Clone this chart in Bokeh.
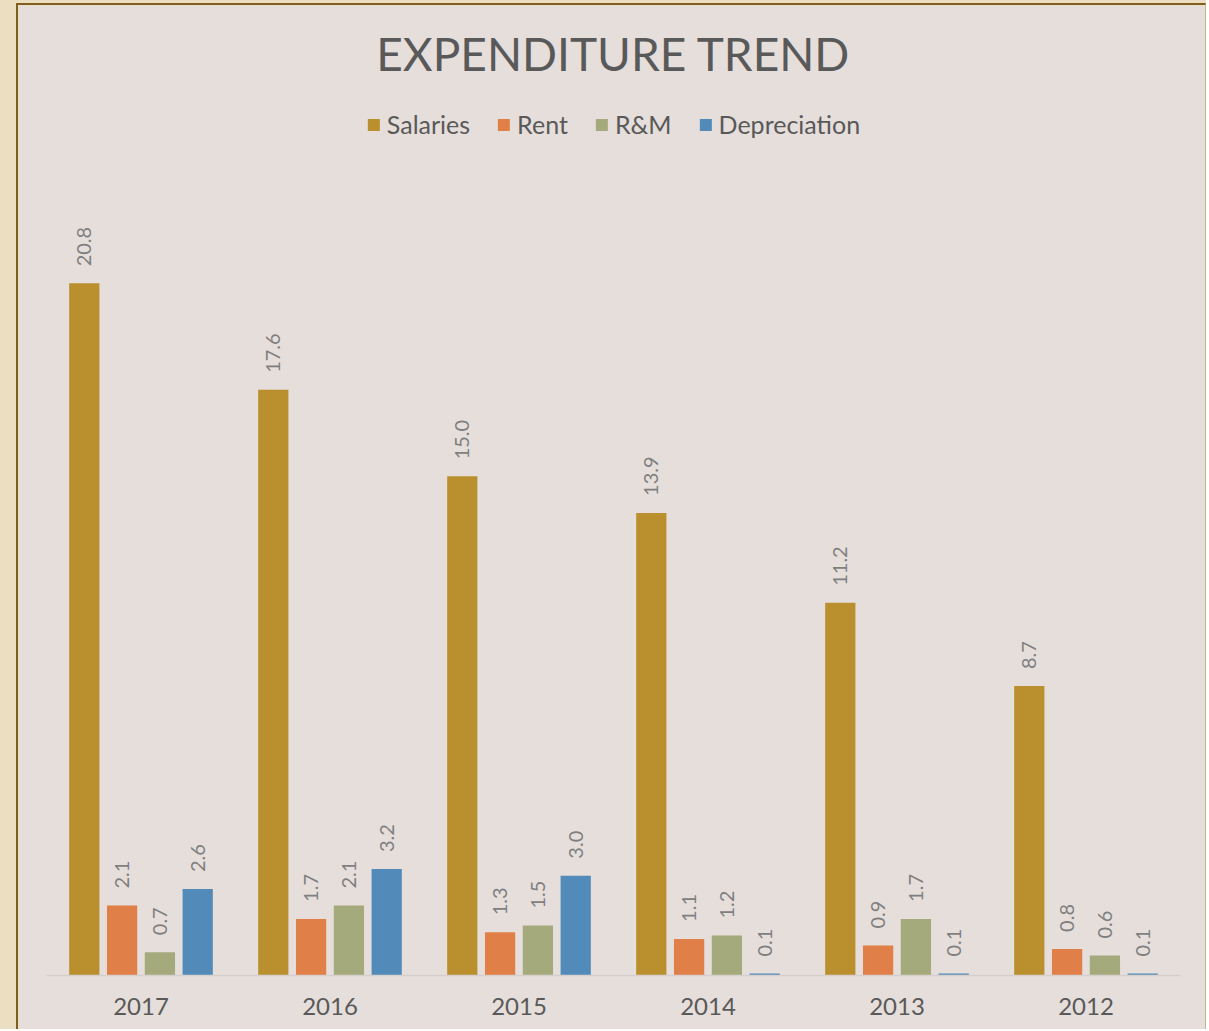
import math
from bokeh.plotting import figure
from bokeh.models import FactorRange, Range1d, ColumnDataSource, Legend, LegendItem, Label
from bokeh.transform import dodge
from bokeh.layouts import column
from bokeh.embed import file_html
from bokeh.resources import INLINE
from bokeh.core.properties import value

# ---- data ----
years = ["2017", "2016", "2015", "2014", "2013", "2012"]
salaries = [20.8, 17.6, 15.0, 13.9, 11.2, 8.7]
rent = [2.1, 1.7, 1.3, 1.1, 0.9, 0.8]
rm = [0.7, 2.1, 1.5, 1.2, 1.7, 0.6]
depreciation = [2.6, 3.2, 3.0, 0.06, 0.06, 0.06]
series_names = ["Salaries", "Rent", "R&M", "Depreciation"]
title_text = "EXPENDITURE TREND"

# ---- style ----
BG = "#E6DEDB"
OUTER = "#EBDEC1"
colors = ["#BA8F2E", "#E07F47", "#A5AA7D", "#528BBA"]
offsets = [-0.3, -0.1, 0.1, 0.3]
FONT = "Lato"

src = ColumnDataSource(dict(
    years=years,
    s0=salaries, s1=rent, s2=rm, s3=depreciation,
    l0=[f"{v:.1f}" for v in salaries],
    l1=[f"{v:.1f}" for v in rent],
    l2=[f"{v:.1f}" for v in rm],
    l3=[f"{v:.1f}" for v in depreciation],
))

p = figure(
    x_range=FactorRange(*years, range_padding=0, factor_padding=0),
    y_range=Range1d(0, 29.15),
    width=1190, height=1026,
    output_backend="svg", toolbar_location=None,
    min_border_left=28, min_border_right=28, min_border_top=0, min_border_bottom=56,
    background_fill_color=BG, border_fill_color=BG, outline_line_color=None,
    styles={"border-left": "2px solid #7F5F1F", "border-top": "2px solid #7F5F1F",
            "border-right": "1px solid #C8B48C"},
)
p.yaxis.visible = False
p.grid.visible = False

xa = p.xaxis[0]
xa.axis_line_color = "#D5D0CD"
xa.axis_line_width = 1.5
xa.major_tick_line_color = None
xa.minor_tick_line_color = None
xa.major_label_standoff = 16
xa.major_label_text_font_size = "24px"
xa.major_label_text_color = "#595959"
xa.major_label_text_font = FONT

items = []
for i, name in enumerate(series_names):
    xs = dodge("years", offsets[i], range=p.x_range)
    r = p.vbar(x=xs, top=f"s{i}", width=0.16, source=src,
               fill_color=colors[i], line_color=None)
    p.text(x=xs, y=f"s{i}", text=f"l{i}", source=src, angle=math.pi / 2,
           text_align="left", text_baseline="middle", y_offset=-17,
           text_font_size="20px", text_color="#7F7F7F", text_font=value(FONT))
    items.append(LegendItem(label=name, renderers=[r]))

legend = Legend(items=items, orientation="horizontal", location="top_center",
                glyph_width=15, glyph_height=15, label_standoff=6, spacing=26,
                padding=0, margin=104, background_fill_alpha=0, border_line_color=None,
                label_text_font_size="25px", label_text_color="#595959",
                label_text_font=FONT)
p.add_layout(legend)

p.add_layout(Label(x=3, y=27.7, text=title_text, text_align="center",
                   text_baseline="alphabetic", text_font_size="46px",
                   text_color="#595959", text_font=FONT))

layout = column(p, styles={"background-color": OUTER, "padding": "3px 0px 0px 16px"})

open("out.html", "w").write(file_html(layout, INLINE))
